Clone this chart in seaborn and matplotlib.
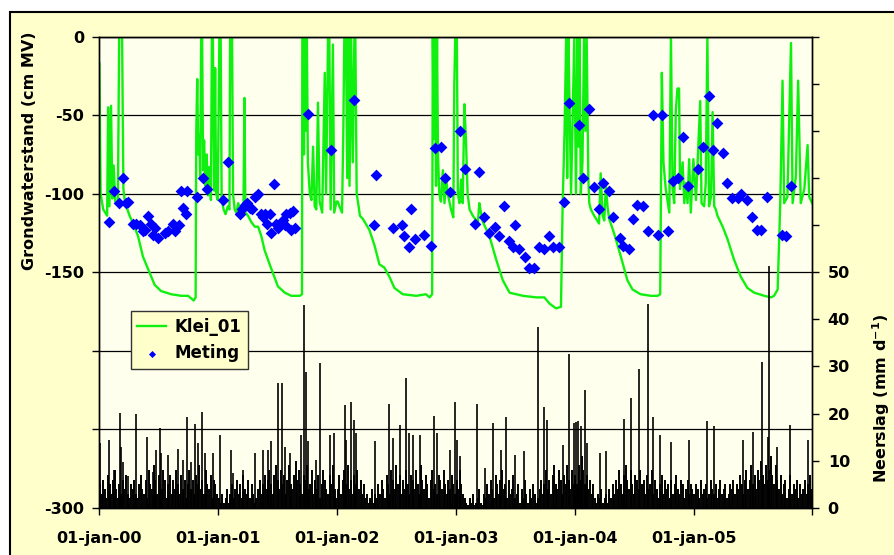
import pandas as pd
import seaborn as sns
import matplotlib.pyplot as plt
import matplotlib.dates as mdates
from matplotlib.patches import Rectangle
from matplotlib.ticker import FixedLocator, FuncFormatter

start = pd.Timestamp("2000-01-01")
end = pd.Timestamp("2006-01-01")

# Klei_01 simulated groundwater level: (day since 01-jan-2000, cm MV)
klei_points = [
    (0, -17), (4, -100), (12, -110), (24, -114), (27, -45), (31, -108), (36, -44), (40, -103), (44, -82),
    (49, -105), (57, -107), (61, 0), (70, 0), (74, -97), (78, -104), (83, -108), (93, -114), (104, -119),
    (119, -127), (134, -140), (150, -148), (170, -158), (190, -162), (221, -164), (252, -165), (273, -165),
    (290, -168), (296, -166),
    (298, -60), (301, -27), (304, -75), (307, -62), (310, -90), (313, 0), (316, 0), (319, -85), (322, -66),
    (326, -95), (330, -75), (334, -101), (338, -83), (343, -104), (346, 0), (349, 0), (353, -98), (356, -20),
    (359, -100), (364, -104), (369, 0), (373, 0), (376, -104), (382, -110), (388, -113), (395, -108),
    (400, -110), (402, 0), (408, 0), (411, -100), (416, -110), (421, -112), (427, -106), (432, -110),
    (443, -112), (446, -39), (449, -112), (457, -114), (467, -118), (478, -121), (488, -121), (498, -127),
    (508, -136), (529, -148), (549, -159), (570, -163), (590, -165), (616, -165), (623, -164),
    (624, 0), (627, 0), (629, -75), (632, 0), (635, -60), (638, 0), (641, -80), (647, -100), (652, -104),
    (657, -70), (662, -108), (667, -110), (672, -42), (677, -105), (685, -112), (693, -23), (697, -100),
    (703, 0), (707, 0), (711, -110), (718, -5), (722, -112), (729, -105), (733, -105), (738, -108),
    (746, -112), (750, -60), (753, 0), (758, 0), (762, -90), (766, 0), (769, -95), (774, 0), (779, -80),
    (784, 0), (787, 0), (791, -100), (797, -108), (801, -114), (810, -116), (830, -123), (846, -133),
    (861, -145), (876, -147), (892, -153), (907, -160), (933, -164), (974, -165), (1004, -164),
    (1015, -166), (1023, -164),
    (1025, 0), (1028, -65), (1031, 0), (1035, -95), (1038, 0), (1041, -75), (1045, -100), (1050, -105),
    (1056, -85), (1061, -106), (1066, -90), (1071, -100), (1081, -110), (1088, -115), (1091, -32),
    (1094, 0), (1099, 0), (1102, -100), (1107, -106), (1112, -91), (1117, -106), (1122, -43), (1127, -66),
    (1132, -100), (1138, -110), (1148, -114), (1158, -117), (1163, -120), (1168, -106), (1173, -112),
    (1179, -118), (1199, -127), (1220, -142), (1240, -155), (1261, -163), (1302, -165), (1343, -166),
    (1368, -166), (1384, -170), (1404, -173), (1419, -172),
    (1424, -108), (1430, -60), (1435, 0), (1438, -90), (1442, 0), (1445, -40), (1450, -100), (1455, -50),
    (1460, 0), (1465, -100), (1470, 0), (1473, -70), (1476, 0), (1480, -100), (1485, -80), (1490, 0),
    (1494, -60), (1498, 0), (1503, -90), (1506, -106), (1511, -110), (1521, -114), (1536, -119),
    (1541, -87), (1547, -114), (1552, -117), (1557, -95), (1562, -108), (1567, -116), (1582, -125),
    (1603, -140), (1623, -155), (1639, -161), (1664, -164), (1695, -165), (1716, -165), (1724, -164),
    (1729, -23), (1734, -80), (1741, -97), (1752, -112), (1757, 0), (1762, -97), (1767, -106), (1772, -47),
    (1777, -33), (1782, -33), (1785, -97), (1793, -80), (1798, -106), (1803, -93), (1808, -106),
    (1813, -78), (1818, -112), (1826, -78), (1834, -104), (1839, -80), (1847, -41), (1851, -106),
    (1859, -108), (1864, -93), (1869, 0), (1874, -108), (1880, -102), (1885, -48), (1890, -108),
    (1895, -110), (1900, -114), (1916, -121), (1931, -129), (1951, -142), (1972, -153), (1992, -160),
    (2013, -163), (2044, -165), (2064, -166), (2074, -165), (2085, -161),
    (2093, -106), (2100, -28), (2105, -106), (2115, -102), (2126, -4), (2131, -106), (2141, -89),
    (2148, -28), (2156, -106), (2167, -97), (2177, -69), (2182, -102), (2191, -106),
]

# measured groundwater level (day since 01-jan-2000, cm MV)
meting_points = [
    (29, -118), (44, -98), (60, -106), (74, -90), (83, -106), (88, -105), (104, -119), (114, -119),
    (124, -120), (134, -124), (140, -123), (150, -114), (158, -119), (165, -126), (172, -122), (181, -128),
    (201, -125), (211, -124), (227, -119), (234, -124), (244, -120), (250, -98), (257, -109), (265, -113),
    (271, -98), (300, -102), (319, -90), (332, -97), (380, -104), (395, -80), (432, -113), (439, -110),
    (447, -107), (454, -106), (462, -109), (470, -110), (478, -102), (488, -100), (496, -113), (503, -115),
    (508, -113), (516, -119), (524, -113), (529, -125), (536, -94), (544, -119), (549, -122), (565, -117),
    (570, -120), (575, -113), (585, -112), (588, -123), (594, -111), (601, -122), (642, -49), (713, -72),
    (782, -40), (849, -88), (844, -120), (902, -122), (930, -120), (938, -127), (951, -134), (957, -110),
    (971, -129), (999, -126), (1019, -133), (1031, -71), (1049, -70), (1063, -90), (1079, -99),
    (1109, -60), (1123, -84), (1154, -119), (1168, -86), (1183, -115), (1199, -125), (1215, -121),
    (1230, -127), (1243, -108), (1259, -130), (1273, -134), (1279, -120), (1291, -135), (1307, -140),
    (1321, -147), (1336, -147), (1352, -134), (1368, -135), (1382, -127), (1396, -134), (1414, -134),
    (1428, -105), (1445, -42),
    (1475, -56), (1488, -90), (1505, -46), (1519, -96), (1535, -110), (1548, -93), (1566, -98),
    (1579, -115), (1600, -128), (1610, -133), (1627, -135), (1640, -116), (1654, -107), (1670, -108),
    (1686, -124), (1703, -50), (1718, -126), (1731, -50), (1749, -124), (1763, -92), (1780, -90),
    (1795, -64), (1810, -95), (1839, -84), (1855, -70), (1873, -38), (1887, -72), (1899, -55),
    (1917, -74), (1930, -93), (1944, -103), (1962, -103), (1973, -100), (1990, -104), (2006, -115),
    (2021, -123), (2035, -123), (2053, -102), (2097, -126), (2112, -127), (2127, -95),
]

# heavy rain days (day since 01-jan-2000, mm/d)
rain_peaks = [
    (1, 13.7), (29, 14.4), (44, 8.1), (63, 20.1), (68, 13), (73, 9.8), (88, 6.7), (114, 20), (148, 15.1),
    (165, 7.7), (175, 12.3), (186, 16.9), (191, 11.6), (211, 11.3), (242, 12.5), (257, 10.2), (268, 19.2),
    (283, 9.8), (295, 17.8), (303, 13.7), (316, 20.4), (324, 11.6), (350, 11.6), (370, 15.5), (404, 12.3),
    (411, 7.4), (442, 8.1), (478, 11.6), (503, 12.3), (519, 12.3), (529, 14.1), (549, 26.6), (562, 26.6),
    (570, 13), (585, 11.6), (621, 15.5), (629, 43.1), (636, 28.9), (642, 14.1), (667, 10.2), (677, 30.7),
    (708, 15.5), (722, 15.9), (754, 21.9), (759, 14.4), (773, 22.4), (783, 18.7), (790, 15.9), (847, 14.1),
    (890, 22.1), (903, 14.8), (923, 17.6), (942, 27.5), (951, 15.9), (964, 15.5), (985, 15.5), (1029, 19.4),
    (1039, 15.9), (1077, 12.3), (1093, 22.4), (1099, 14.4), (1109, 10.9), (1162, 22.1), (1186, 8.4),
    (1211, 18), (1234, 12.3), (1249, 19.2), (1278, 11.3), (1306, 12.1), (1347, 38.4), (1367, 21.3),
    (1375, 18.7), (1424, 13.4), (1444, 32.7), (1459, 18), (1465, 18.3), (1472, 18.5), (1480, 17.3),
    (1492, 25.1), (1498, 13.7), (1539, 11.6), (1557, 12.1), (1613, 18.9), (1634, 23.3), (1659, 29.4),
    (1685, 43.3), (1703, 19.2), (1724, 15.5), (1757, 13.9), (1813, 14.3), (1869, 18.5), (1888, 17.3),
    (1980, 14.4), (2008, 16.2), (2036, 30.9), (2054, 15), (2058, 51.4), (2082, 13), (2123, 17.5),
    (2179, 14.3),
]

# ordinary rain, one value per 5 days (mm/d)
rain_2000 = [5, 3, 6, 4, 2, 7, 5, 3, 6, 8, 4, 2, 5, 3, 6, 4, 7, 3, 2, 5, 4, 6, 3, 2, 5, 7, 4, 3, 6, 2, 8, 5, 4,
             9, 6, 3, 7, 5, 4, 8, 6, 2, 5, 7, 3, 6, 4, 8, 5, 3, 7, 4, 6, 2, 5, 8, 4, 6, 3, 7, 5, 9, 4, 6, 3,
             8, 5, 4, 7, 2, 6, 5, 3]
rain_2001 = [2, 1, 3, 1, 2, 4, 1, 3, 5, 2, 4, 6, 3, 5, 2, 7, 4, 3, 6, 2, 5, 3, 1, 2, 4, 6, 3, 5, 7, 4, 6, 8, 5,
             3, 7, 9, 6, 4, 8, 5, 7, 3, 6, 9, 5, 4, 7, 10, 6, 8, 5, 3, 7, 6, 9, 4, 5, 8, 3, 6, 4, 7, 2, 5, 8,
             6, 4, 3, 7, 5, 9, 4, 2]
rain_2002 = [4, 7, 3, 6, 8, 5, 9, 4, 6, 3, 7, 5, 8, 4, 6, 3, 5, 2, 3, 1, 2, 4, 1, 3, 2, 5, 3, 6, 4, 2, 7, 5, 3,
             8, 6, 4, 9, 5, 7, 3, 6, 4, 8, 5, 3, 7, 6, 4, 8, 5, 3, 9, 6, 4, 7, 5, 2, 6, 8, 4, 5, 3, 7, 6, 4,
             8, 5, 3, 6, 4, 7, 5, 3]
rain_2003 = [6, 4, 8, 5, 3, 2, 1, 0.5, 2, 1, 3, 0.5, 1, 2, 4, 1, 0.5, 3, 2, 5, 3, 6, 4, 2, 7, 5, 3, 6, 8, 4, 5,
             2, 6, 3, 4, 7, 2, 3, 5, 1, 4, 2, 6, 3, 1, 4, 2, 5, 3, 1, 2, 4, 6, 3, 5, 8, 4, 6, 3, 7, 9, 5, 4,
             8, 6, 3, 7, 5, 9, 6, 4, 8, 5]
rain_2004 = [7, 5, 9, 6, 11, 8, 5, 7, 4, 6, 3, 5, 2, 1, 3, 2, 4, 1, 2, 3, 1, 4, 2, 5, 3, 6, 4, 8, 5, 3, 7, 9, 6,
             4, 8, 5, 3, 7, 6, 4, 8, 5, 6, 3, 7, 4, 5, 8, 3, 6, 4, 2, 5, 7, 3, 6, 4, 5, 2, 6, 3, 5, 7, 4, 3,
             6, 5, 2, 4, 6, 3, 5, 4]
rain_2005 = [3, 5, 4, 2, 6, 3, 4, 5, 2, 3, 6, 4, 3, 5, 2, 4, 6, 3, 4, 5, 2, 3, 5, 4, 6, 3, 5, 4, 7, 5, 3, 6, 8,
             4, 6, 9, 5, 7, 4, 8, 6, 10, 7, 5, 9, 6, 8, 11, 7, 5, 9, 6, 4, 7, 3, 5, 6, 2, 4, 7, 3, 5, 4, 6, 2,
             5, 3, 4, 6, 3, 5, 7, 4]
rain_years = {2000: rain_2000, 2001: rain_2001, 2002: rain_2002,
              2003: rain_2003, 2004: rain_2004, 2005: rain_2005}

# build tables
klei = pd.DataFrame(klei_points, columns=["day", "level"])
klei["date"] = start + pd.to_timedelta(klei["day"], unit="D")
meting = pd.DataFrame(meting_points, columns=["day", "level"])
meting["date"] = start + pd.to_timedelta(meting["day"], unit="D")

rows = []
for year, vals in rain_years.items():
    for i, v in enumerate(vals):
        rows.append((pd.Timestamp(year, 1, 1) + pd.Timedelta(days=5 * i + 2), v))
rain_bg = pd.DataFrame(rows, columns=["date", "mm"])
rain_pk = pd.DataFrame([(start + pd.Timedelta(days=d), v) for d, v in rain_peaks], columns=["date", "mm"])

# style
plt.rcParams["font.family"] = "DejaVu Sans"
plt.rcParams["font.weight"] = "bold"
plt.rcParams["axes.unicode_minus"] = False
plt.rcParams["mathtext.fontset"] = "dejavusans"
plt.rcParams["mathtext.default"] = "bf"

fig = plt.figure(figsize=(8.94, 5.55), dpi=100, facecolor="white")
fig.add_artist(Rectangle((10 / 894, -0.01), 1.0, 1 - 12 / 555 + 0.01, transform=fig.transFigure,
                         facecolor="#FFFFCC", edgecolor="black", linewidth=1.5, zorder=-10))
ax = fig.add_axes([0.1111, 0.0850, 0.7977, 0.8489])
ax.set_facecolor("#FFFFEE")

sns.lineplot(data=klei, x="date", y="level", ax=ax, color="#10F010", linewidth=1.7,
             estimator=None, label="Klei_01")
sns.scatterplot(data=meting, x="date", y="level", ax=ax, marker="D", s=36, color="#0000FF",
                linewidth=0, label="Meting", zorder=3)

ax2 = ax.twinx()
ax2.vlines(rain_bg["date"], 0, rain_bg["mm"], color="black", linewidth=1.4)
ax2.vlines(rain_pk["date"], 0, rain_pk["mm"], color="black", linewidth=1.2)

# axes
ax.set_xlim(start, end)
ax.set_ylim(-300, 0)
ax2.set_ylim(0, 100)
ax.set_xlabel("")
ax.set_ylabel("")

ax.yaxis.set_major_locator(FixedLocator(list(range(-300, 1, 50))))
ax.yaxis.set_major_formatter(FuncFormatter(lambda v, p: "" if v in (-200, -250) else f"{int(v)}"))
ax2.yaxis.set_major_locator(FixedLocator(list(range(0, 101, 10))))
ax2.yaxis.set_major_formatter(FuncFormatter(lambda v, p: f"{int(v)}" if v <= 50 else ""))
ax.xaxis.set_major_locator(mdates.YearLocator())


def date_label(v, p):
    y = mdates.num2date(v).year
    return "" if y > 2005 else "01-jan-%02d" % (y % 100)


ax.xaxis.set_major_formatter(FuncFormatter(date_label))

ax.tick_params(axis="both", direction="out", length=5, width=1, colors="black", labelsize=11.5)
ax.tick_params(axis="y", pad=6)
ax.tick_params(axis="x", pad=12)
ax2.tick_params(axis="y", direction="out", length=5, width=1, labelsize=11.5, pad=6)

ax.grid(axis="y", color="black", linewidth=0.9)
ax.grid(axis="x", visible=False)
for a in (ax, ax2):
    for s in a.spines.values():
        s.set_color("black")
        s.set_linewidth(1)

# legend on top of the rain bars
h, l = ax.get_legend_handles_labels()
ax.get_legend().remove()
leg = ax2.legend(h, l, loc="upper left", bbox_to_anchor=(0.044, 0.418), borderaxespad=0,
                 frameon=True, fancybox=False, facecolor="#FFFFCC", edgecolor="#333333", framealpha=1,
                 prop={"weight": "bold", "size": 12}, handlelength=1.7, markerscale=0.6,
                 borderpad=0.4, labelspacing=0.5, handletextpad=0.5)
leg.get_frame().set_linewidth(1)

fig.text(30 / 894, 1 - 151 / 555, "Grondwaterstand (cm MV)", rotation=90, ha="center", va="center",
         fontsize=11.5, weight="bold")
fig.text(881 / 894, 1 - 398 / 555, r"Neerslag (mm d$^{-1}$)", rotation=90, ha="center", va="center",
         fontsize=11.5, weight="bold")

fig.savefig("out.png", dpi=100, facecolor=fig.get_facecolor())
